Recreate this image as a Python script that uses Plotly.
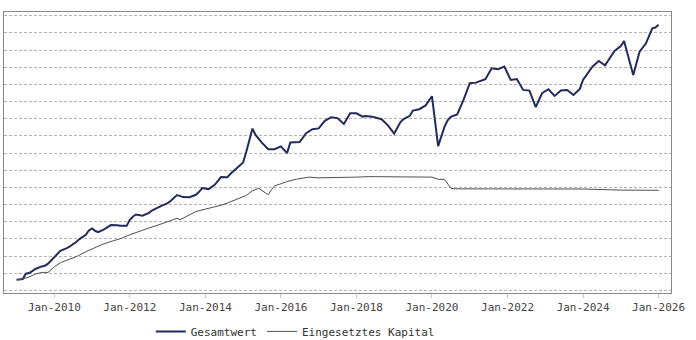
import plotly.graph_objects as go

# Gesamtwert (total value) – vertices
gesamt_dates = [
    "2009-01", "2009-03", "2009-04", "2009-05", "2009-06", "2009-07", "2009-09", "2009-10",
    "2009-11", "2009-12", "2010-01", "2010-02", "2010-03", "2010-05", "2010-06", "2010-07",
    "2010-08", "2010-09", "2010-10", "2010-11", "2010-12", "2011-01", "2011-02", "2011-03",
    "2011-05", "2011-06", "2011-07", "2011-09", "2011-10", "2011-12", "2012-01", "2012-02",
    "2012-03", "2012-05", "2012-07", "2012-08", "2012-10", "2012-11", "2013-01", "2013-02",
    "2013-04", "2013-05", "2013-06", "2013-08", "2013-10", "2013-11", "2013-12", "2014-02",
    "2014-04", "2014-06", "2014-08", "2014-09", "2014-11", "2015-01", "2015-02", "2015-03",
    "2015-04", "2015-05", "2015-07", "2015-09", "2015-11", "2016-01", "2016-03", "2016-04",
    "2016-07", "2016-09", "2016-11", "2017-01", "2017-03", "2017-05", "2017-07", "2017-09",
    "2017-11", "2018-01", "2018-03", "2018-04", "2018-06", "2018-09", "2018-11", "2019-01",
    "2019-03", "2019-04", "2019-06", "2019-07", "2019-09", "2019-11", "2020-01", "2020-03",
    "2020-05", "2020-06", "2020-07", "2020-09", "2020-11", "2021-01", "2021-03", "2021-06",
    "2021-08", "2021-10", "2021-12", "2022-02", "2022-04", "2022-06", "2022-08", "2022-10",
    "2022-12", "2023-02", "2023-04", "2023-06", "2023-08", "2023-10", "2023-12", "2024-01",
    "2024-04", "2024-06", "2024-08", "2024-11", "2025-01", "2025-02", "2025-05", "2025-07",
    "2025-09", "2025-11", "2025-12", "2026-01",
]
gesamt_values = [
    3110, 3320, 4860, 5060, 5640, 6230, 6980, 7190,
    7770, 8730, 9890, 10680, 11550, 12330, 12800, 13500,
    14080, 14950, 15530, 16200, 17450, 18040, 17280, 16990,
    17860, 18330, 19030, 19000, 18820, 18800, 20570, 21530,
    22110, 21730, 22520, 23270, 24260, 24640, 25430, 26090,
    27750, 27550, 27170, 27150, 27840, 28710, 29790, 29500,
    30750, 32990, 32950, 33950, 35610, 37240, 40440, 43340,
    47130, 45290, 43050, 41130, 41100, 41950, 39970, 43050,
    43200, 45790, 46950, 47180, 49370, 50440, 50180, 48490,
    51610, 51580, 50620, 50820, 50600, 49860, 48060, 45670,
    48930, 49870, 50830, 52360, 52770, 53880, 56550, 42010,
    47620, 49510, 50530, 51260, 55480, 60330, 60510, 61500,
    64700, 64400, 65160, 61290, 61530, 58380, 58180, 53350,
    57420, 58590, 56640, 58240, 58380, 56930, 58680, 61290,
    65160, 66820, 65570, 69730, 71180, 72640, 62750, 69530,
    71970, 76330, 76570, 77380,
]

# Eingesetztes Kapital (invested capital)
kapital_dates = [
    "2009-01", "2009-03", "2009-05", "2009-07", "2009-09", "2009-11", "2010-01", "2010-03",
    "2010-05", "2010-08", "2010-11", "2011-01", "2011-04", "2011-07", "2011-10", "2012-01",
    "2012-04", "2012-07", "2012-10", "2013-01", "2013-04", "2013-05", "2013-08", "2013-10",
    "2014-01", "2014-04", "2014-06", "2014-08", "2014-10", "2014-12", "2015-02", "2015-04",
    "2015-06", "2015-07", "2015-09", "2015-10", "2015-11", "2016-01", "2016-03", "2016-06",
    "2016-10", "2017-01", "2017-05", "2017-09", "2018-01", "2018-05", "2019-03", "2019-12",
    "2020-01", "2020-03", "2020-05", "2020-07", "2020-08", "2021-07", "2022-05", "2023-03",
    "2024-01", "2025-01", "2026-01",
]
kapital_values = [
    3110, 3320, 3900, 4770, 5240, 5240, 6890, 8060,
    8790, 9800, 11260, 12130, 13290, 14250, 15040, 16200,
    17220, 18150, 19030, 20070, 21000, 20570, 21880, 22980,
    23680, 24260, 24790, 25430, 26180, 26880, 27690, 29000,
    29730, 29090, 27840, 29290, 30460, 31040, 31710, 32410,
    32990, 32780, 32780, 32870, 32990, 33130, 33130, 33130,
    32990, 32350, 32350, 29790, 29580, 29560, 29550, 29540,
    29530, 29210, 29150,
]

x_range = ["2008-09-01", "2026-05-01"]
y_range = [-756, 81076]
grid_step = 5000

mono = "DejaVu Sans Mono"

fig = go.Figure()
fig.add_trace(go.Scatter(
    x=gesamt_dates, y=gesamt_values, mode="lines", name="Gesamtwert",
    line=dict(color="#252a5c", width=2),
))
fig.add_trace(go.Scatter(
    x=kapital_dates, y=kapital_values, mode="lines", name="Eingesetztes Kapital",
    line=dict(color="#505050", width=1),
))

fig.update_layout(
    width=696, height=340,
    margin=dict(l=4, r=25, t=12, b=47, autoexpand=False),
    paper_bgcolor="white", plot_bgcolor="white",
    font=dict(family=mono, size=11, color="#333333"),
    showlegend=True,
    legend=dict(
        orientation="h", x=0.22, xanchor="left", y=-0.085, yanchor="top",
        font=dict(family=mono, size=11, color="#333333"),
        itemwidth=30, tracegroupgap=0,
        bgcolor="rgba(0,0,0,0)",
    ),
    xaxis=dict(
        type="date", range=x_range,
        tick0="2010-01-01", dtick="M24", tickformat="%b-%Y",
        ticks="outside", ticklen=4, tickcolor="#c8c8c8",
        showgrid=False, zeroline=False,
        showline=True, linecolor="#8a8a8a", linewidth=1, mirror=True,
        tickfont=dict(family=mono, size=11, color="#444444"),
    ),
    yaxis=dict(
        range=y_range, tick0=0, dtick=grid_step,
        showticklabels=False, ticks="",
        showgrid=True, gridcolor="#b4b4b4", gridwidth=1, griddash="3px,2px",
        zeroline=False,
        showline=True, linecolor="#8a8a8a", linewidth=1, mirror=True,
    ),
)

fig.write_html("out.html")
